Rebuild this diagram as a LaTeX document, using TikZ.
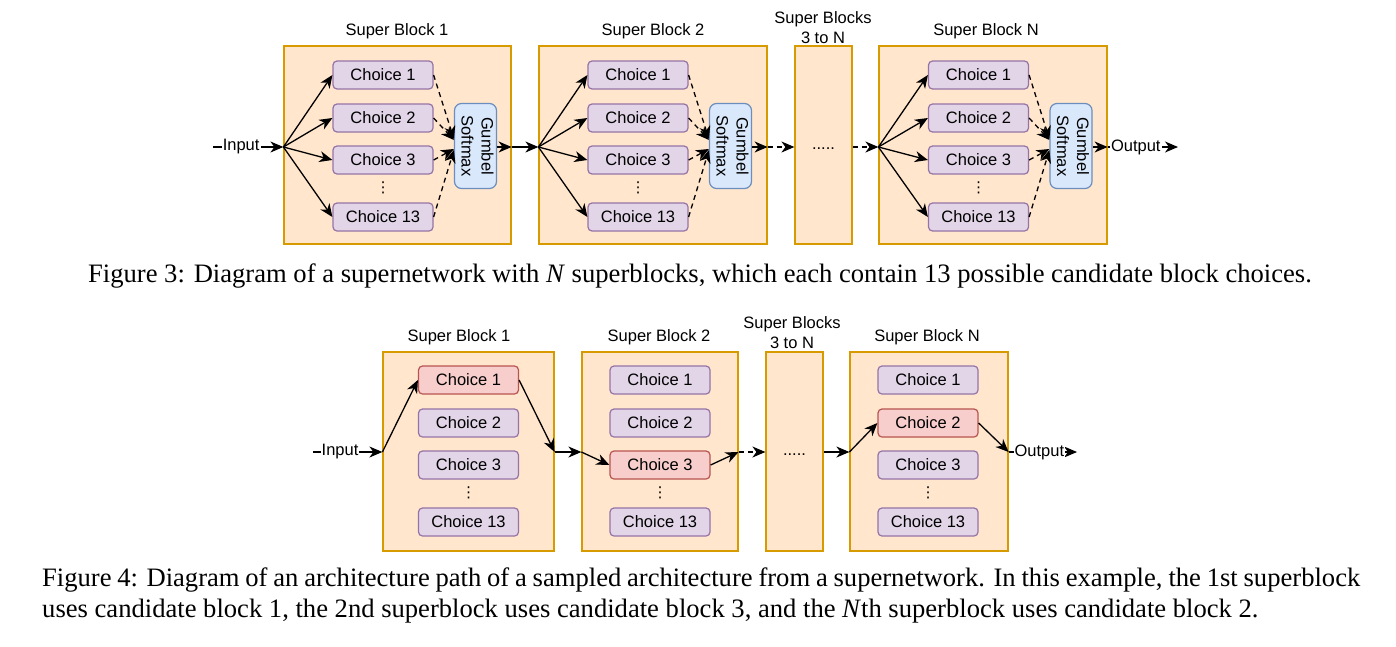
\documentclass[tikz,border=0pt]{standalone}
\usepackage{fontspec}
\usepackage{graphicx}
\setmainfont{Liberation Serif}
\newfontfamily\arialf{Liberation Sans}
\newfontfamily\dejavuf{DejaVu Sans}
\usetikzlibrary{arrows.meta}
\definecolor{sbfill}{HTML}{FFE6CC}
\definecolor{sbdraw}{HTML}{D79B00}
\definecolor{chfill}{HTML}{E1D5E7}
\definecolor{chdraw}{HTML}{9673A6}
\definecolor{gbfill}{HTML}{DAE8FC}
\definecolor{gbdraw}{HTML}{6C8EBF}
\definecolor{rdfill}{HTML}{F8CECC}
\definecolor{rddraw}{HTML}{B85450}
\begin{document}
\begin{tikzpicture}[x=1pt,y=-1pt,
  diag/.style={font=\arialf\fontsize{16.5}{20}\selectfont},
  sblock/.style={draw=sbdraw, fill=sbfill, line width=1.2pt, inner sep=0pt},
  choice/.style={diag, draw=chdraw, fill=chfill, line width=1.2pt, rounded corners=4pt, minimum width=100pt, minimum height=28pt, inner sep=0pt},
  chosen/.style={choice, draw=rddraw, fill=rdfill},
  gumbel/.style={diag, draw=gbdraw, fill=gbfill, line width=1.2pt, rounded corners=7pt, minimum width=42pt, minimum height=85pt, inner sep=0pt},
  vdotsn/.style={font=\dejavuf\fontsize{15}{16}\selectfont, inner sep=0pt},
  arr/.style={-{Stealth[length=13pt,width=11pt,inset=4pt]}, line width=1.3pt},
  dsh/.style={dash pattern=on 5pt off 4pt},
  lab/.style={diag, fill=white, inner sep=1pt},
  capfont/.style={font=\fontsize{26.6}{31}\selectfont, inner sep=0pt}]
\useasboundingbox (0,0) rectangle (1396,646);
\fill[white] (0,0) rectangle (1396,646);

% ---------------- Figure 3 ----------------
\node[diag] (t1lab) at (397,31) {Super Block 1};
\node[diag] (t2lab) at (653,31) {Super Block 2};
\node[diag, align=center] (t3lab) at (823,28) {Super Blocks\\3 to N};
\node[diag] (tNlab) at (986,31) {Super Block N};

\node[sblock, minimum width=227pt, minimum height=198pt] (t1) at (397.5,145) {};
\node[sblock, minimum width=228pt, minimum height=198pt] (t2) at (653,145) {};
\node[sblock, minimum width=57pt, minimum height=198pt] (t3) at (823.5,145) {};
\node[sblock, minimum width=228pt, minimum height=198pt] (tN) at (993,145) {};
\node[diag] (t3dots) at (823.5,149) {.....};

\foreach \bk/\cx in {1/383, 2/638, N/978.5} {
  \foreach \i/\cy in {1/75, 2/118, 3/160, 13/217}
    \node[choice] (t\bk c\i) at (\cx,\cy) {Choice \i};
  \node[vdotsn] (t\bk dots) at (\cx,188) {⋮};
  \node[gumbel] (t\bk g) at (\cx+92.5,146) {\rotatebox{-90}{\begin{tabular}{@{}c@{}}Gumbel\\Softmax\end{tabular}}};
}

\coordinate (tin) at (213,147);
\coordinate (tout) at (1178,147);
\foreach \bk in {1,2,3,N} {
  \coordinate (t\bk L) at (t\bk.west |- tin);
  \coordinate (t\bk R) at (t\bk.east |- tin);
}
\foreach \bk in {1,2,N} {
  \foreach \i in {1,2,3,13}
    \draw[arr] (t\bk L) -- (t\bk c\i.west);
  \foreach \i/\sh in {1/7pt,2/6pt,3/-3pt,13/-4pt}
    \draw[arr, dsh] (t\bk c\i.east) -- ([yshift=\sh]t\bk g.west);
  \draw[arr] (t\bk g.east |- tin) -- (t\bk R);
}
\draw[arr] (tin) -- node[lab, pos=0.4] {Input} (t1L);
\draw[arr] (t1R) -- (t2L);
\draw[arr, dsh] (t2R) -- (t3L);
\draw[arr, dsh] (t3R) -- (tNL);
\draw[arr] (tNR) -- node[lab, pos=0.4] {Output} (tout);

\node[capfont, anchor=base] (cap3) at (700,282) {Figure 3: Diagram of a supernetwork with \textit{N} superblocks, which each contain 13 possible candidate block choices.};

% ---------------- Figure 4 ----------------
\node[diag] (b1lab) at (459,337) {Super Block 1};
\node[diag] (b2lab) at (659,337) {Super Block 2};
\node[diag, align=center] (b3lab) at (792,333) {Super Blocks\\3 to N};
\node[diag] (bNlab) at (927,337) {Super Block N};

\node[sblock, minimum width=171pt, minimum height=199pt] (b1) at (468.5,451.5) {};
\node[sblock, minimum width=156pt, minimum height=199pt] (b2) at (660,451.5) {};
\node[sblock, minimum width=57pt, minimum height=199pt] (b3) at (794.5,451.5) {};
\node[sblock, minimum width=158pt, minimum height=199pt] (bN) at (929,451.5) {};
\node[diag] (b3dots) at (794.5,455) {.....};

\foreach \bk/\cx/\sel in {1/468.5/1, 2/660/3, N/928/2} {
  \foreach \i/\cy in {1/380, 2/423, 3/465, 13/522} {
    \ifnum\i=\sel\relax\def\st{chosen}\else\def\st{choice}\fi
    \node[\st] (b\bk c\i) at (\cx,\cy) {Choice \i};
  }
  \node[vdotsn] (b\bk dots) at (\cx,493) {⋮};
}

\coordinate (bin) at (313,452);
\coordinate (bout) at (1077,452);
\foreach \bk in {1,2,3,N} {
  \coordinate (b\bk L) at (b\bk.west |- bin);
  \coordinate (b\bk R) at (b\bk.east |- bin);
}
\draw[arr] (bin) -- node[lab, pos=0.39] {Input} (b1L);
\draw[arr] (b1L) -- (b1c1.west);
\draw[arr] (b1c1.east) -- (b1R);
\draw[arr] (b1R) -- (b2L);
\draw[arr] (b2L) -- (b2c3.west);
\draw[arr] (b2c3.east) -- (b2R);
\draw[arr, dsh] (b2R) -- (b3L);
\draw[arr] (b3R) -- (bNL);
\draw[arr] (bNL) -- (bNc2.west);
\draw[arr] (bNc2.east) -- (bNR);
\draw[arr] (bNR) -- node[lab, pos=0.45] {Output} (bout);

\node[capfont, anchor=base west] (cap4a) at (42,586) {\makebox[1318pt][s]{Figure 4: Diagram of an architecture path of a sampled architecture from a supernetwork. In this example, the 1st superblock}};
\node[capfont, anchor=base west] (cap4b) at (42,617) {uses candidate block 1, the 2nd superblock uses candidate block 3, and the \textit{N}th superblock uses candidate block 2.};
\end{tikzpicture}
\end{document}
